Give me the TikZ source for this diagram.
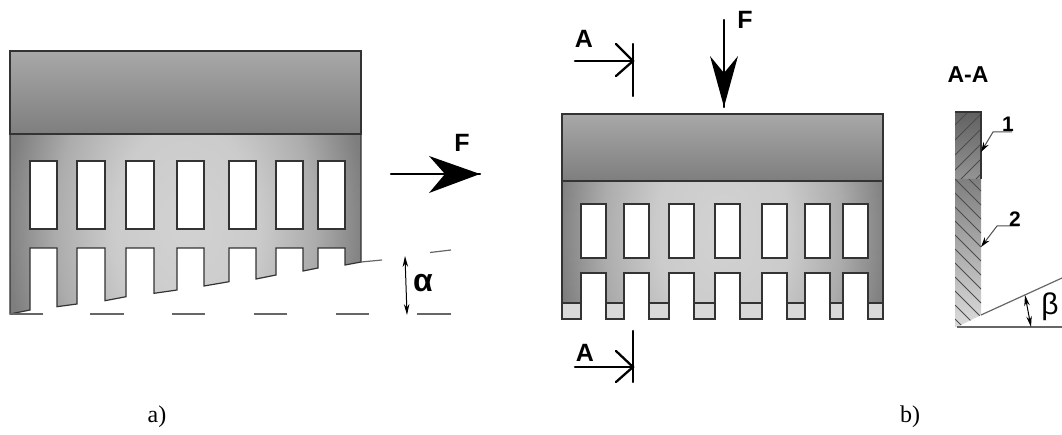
\documentclass[tikz,border=0pt]{standalone}
\usepackage{fontspec}
\setmainfont{Liberation Serif}
\setsansfont{Liberation Sans}
\usetikzlibrary{arrows.meta}
\definecolor{bodydark}{HTML}{7E7E7E}
\definecolor{bodymid}{HTML}{A8A8A8}
\definecolor{bodylight}{HTML}{D2D2D2}
\definecolor{tiplight}{HTML}{D9D9D9}
\definecolor{edgegray}{HTML}{333333}
\pgfdeclareradialshading{bodyglow}{\pgfpointorigin}{color(0bp)=(bodylight); color(10bp)=(bodylight!92!bodydark); color(18bp)=(bodylight!55!bodydark); color(25bp)=(bodydark); color(50bp)=(bodydark)}
\tikzset{
	edge/.style={draw=edgegray,line width=1.2pt},
	hole/.style={edge,fill=white},
	thin line/.style={draw=black!60,line width=1.2pt},
	hatch line/.style={draw=black!70,line width=0.8pt},
	mark line/.style={draw=black,line width=2.3pt,line cap=round},
	dim arrow/.style={draw=black,line width=1pt,{Stealth[length=11pt,width=5.5pt]}-{Stealth[length=11pt,width=5.5pt]}},
	leader/.style={draw=black!70,line width=1pt,{Stealth[length=10pt,width=6pt,black]}-},
	big tip/.style={fill=black,draw=none},
	letter/.style={font=\sffamily\bfseries\fontsize{25}{25}\selectfont,inner sep=0pt},
	small letter/.style={font=\sffamily\bfseries\fontsize{21}{21}\selectfont,inner sep=0pt},
	caption/.style={font=\fontsize{24}{24}\selectfont,inner sep=0pt},
}
\def\combleft{(10,134) -- (361,134) -- (361,262) -- (345,265) -- (345,248) -- (318,248) -- (318,268)
	-- (303,271) -- (303,248) -- (276,248) -- (276,275) -- (256,279) -- (256,248) -- (229,248) -- (229,281.7)
	-- (204,286) -- (204,248) -- (177,248) -- (177,290) -- (154,293.3) -- (154,248) -- (126,248) -- (126,296.7)
	-- (105,300.7) -- (105,248) -- (77,248) -- (77,304) -- (57,306.7) -- (57,248) -- (30,248) -- (30,310) -- (10,314) -- cycle}
\def\combright{(562,181) -- (883,181) -- (883,319) -- (868,319) -- (868,273) -- (843,273) -- (843,319) -- (830,319) -- (830,273)
	-- (805,273) -- (805,319) -- (787,319) -- (787,273) -- (762,273) -- (762,319) -- (740,319) -- (740,273) -- (715,273)
	-- (715,319) -- (694,319) -- (694,273) -- (669,273) -- (669,319) -- (649,319) -- (649,273) -- (624,273) -- (624,319)
	-- (606,319) -- (606,273) -- (581,273) -- (581,319) -- (562,319) -- cycle}
\begin{document}
\begin{tikzpicture}[x=1pt,y=-1pt]

	\useasboundingbox (0,0) rectangle (1062,435);

	% a)
	\begin{scope}
		\clip \combleft;
		\shade[shading=bodyglow] (5,-30) rectangle (366,480);
	\end{scope}
	\draw[edge] \combleft;
	\shade[top color=bodymid,bottom color=bodydark] (10,51) rectangle (361,134);
	\draw[edge] (10,51) rectangle (361,134);
	\foreach \xa/\xb in {30/57,77/105,126/154,177/204,229/256,276/303,318/345}
		\draw[hole] (\xa,161) rectangle (\xb,229);

	\draw[thin line] (361,262) -- (382,260);
	\draw[thin line] (430,252.5) -- (451,250);
	\foreach \xa/\xb in {10/43,90/124,172/205,254/287,336/369,417/451}
		\draw[thin line] (\xa,314) -- (\xb,314);

	\coordinate (alphatop) at (405,256);
	\coordinate (alphabottom) at (407,315);
	\draw[dim arrow] (alphatop) -- (alphabottom);
	\node[letter,font=\sffamily\bfseries\fontsize{32}{32}\selectfont] (alpha) at (423,283) {α};

	\coordinate (forcestart) at (391,174);
	\coordinate (forcetip) at (480,174);
	\draw[mark line] (forcestart) -- (forcetip);
	\fill[big tip] (forcetip) -- (429,156) -- (445,174) -- (429,193) -- cycle;
	\node[letter] (forcea) at (462,143) {F};

	\node[caption] (capa) at (157,417) {a)};

	% b)
	\begin{scope}
		\clip \combright;
		\shade[shading=bodyglow] (557,-20) rectangle (888,480);
		\fill[tiplight] (550,303) rectangle (895,319);
	\end{scope}
	\draw[edge] \combright;
	\foreach \xa/\xb in {562/581,606/624,649/669,694/715,740/762,787/805,830/843,868/883}
		\draw[edge] (\xa,303) -- (\xb,303);
	\shade[top color=bodymid,bottom color=bodydark] (562,114) rectangle (883,181);
	\draw[edge] (562,114) rectangle (883,181);
	\foreach \xa/\xb in {581/606,624/649,669/694,715/740,762/787,805/830,843/868}
		\draw[hole] (\xa,204) rectangle (\xb,258);

	\coordinate (forcetop) at (724,20);
	\coordinate (forcebottom) at (724,107);
	\draw[mark line] (forcetop) -- (forcebottom);
	\fill[big tip] (forcebottom) -- (710,56) -- (724,73) -- (738,56) -- cycle;
	\node[letter] (forceb) at (745,20) {F};

	\coordinate (cuta) at (575,61);
	\coordinate (cutb) at (633,61);
	\draw[mark line] (cuta) -- (cutb);
	\draw[mark line] (633,44) -- (633,96);
	\draw[mark line] (616,44) -- (cutb) -- (616,76);
	\node[letter] (labela) at (584,39) {A};

	\coordinate (cutc) at (575,367);
	\coordinate (cutd) at (633,367);
	\draw[mark line] (cutc) -- (cutd);
	\draw[mark line] (633,331) -- (633,382);
	\draw[mark line] (616,351) -- (cutd) -- (616,382);
	\node[letter] (labelb) at (585,353) {A};

	% section
	\node[letter,font=\sffamily\bfseries\fontsize{23}{23}\selectfont] (section) at (968,75) {A-A};
	\shade[top color=black!62,bottom color=black!42] (955,112) rectangle (981,179);
	\shade[top color=black!50,bottom color=black!14] (955,179) -- (981,179) -- (981,315) -- (957,327) -- (955,327) -- cycle;
	\begin{scope}
		\clip (955,112) rectangle (981,179);
		\foreach \d in {125,140,...,215}
			\draw[hatch line] (955,\d) -- (981,\d-26);
	\end{scope}
	\begin{scope}
		\clip (955,179) -- (981,179) -- (981,315) -- (957,327) -- (955,327) -- cycle;
		\foreach \d in {165,179,...,320}
			\draw[hatch line] (955,\d) -- (981,\d+26);
	\end{scope}
	\draw[edge] (955,112) -- (981,112) -- (981,179);

	\coordinate (wedgetip) at (957,327);
	\coordinate (wedgeend) at (1062,278);
	\coordinate (wedgefoot) at (981,315);
	\coordinate (baseend) at (1062,327);
	\draw[thin line] (wedgefoot) -- (wedgeend);
	\draw[thin line] (wedgetip) -- (baseend);
	\draw[dim arrow] (1025,295) -- (1031,327);
	\node[font=\sffamily\fontsize{30}{30}\selectfont,inner sep=0pt] (beta) at (1050,307) {β};

	\coordinate (tipone) at (981,152);
	\coordinate (tiptwo) at (981,247);
	\draw[leader] (tipone) -- (993,132) -- (1012,132);
	\draw[leader] (tiptwo) -- (997,226) -- (1019,226);
	\node[small letter] (one) at (1008,124) {1};
	\node[small letter] (two) at (1015,219) {2};

	\node[caption] (capb) at (910,417) {b)};

\end{tikzpicture}
\end{document}
